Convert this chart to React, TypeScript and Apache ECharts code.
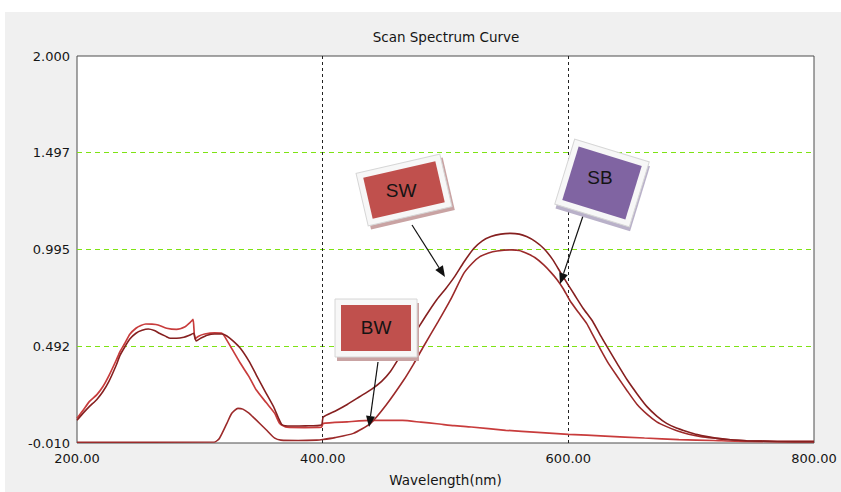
import React, { useEffect, useRef } from 'react';
import * as echarts from 'echarts';

// SW sample: UV hump, step at 400 nm, main band peaking near 553 nm
const swWavelength = [
  200, 205, 210, 216, 221, 226, 232, 235, 239, 243, 248, 253, 258, 263, 267, 272, 276, 281, 287, 291,
  295, 297, 301, 306, 312, 318, 322, 327, 333, 340, 346, 353, 360, 364, 367, 374, 386, 399, 400.5, 410,
  420, 430, 440, 448, 455, 462, 469, 477, 485, 493, 500, 507, 515, 523, 530, 537, 545, 553, 560, 566,
  573, 580, 587, 594, 600, 605, 612, 620, 626, 632, 640, 648, 656, 664, 672, 680, 688, 697, 705, 713,
  721, 730, 745, 770, 800,
];
const swAbsorbance = [
  0.108, 0.145, 0.179, 0.215, 0.256, 0.31, 0.395, 0.445, 0.49, 0.53, 0.56, 0.575, 0.582, 0.574, 0.56, 0.545, 0.534, 0.534, 0.539, 0.548,
  0.56, 0.52, 0.535, 0.55, 0.556, 0.556, 0.546, 0.52, 0.482, 0.415, 0.343, 0.26, 0.179, 0.12, 0.084, 0.078, 0.079, 0.084, 0.125, 0.155,
  0.19, 0.23, 0.27, 0.31, 0.36, 0.43, 0.50, 0.58, 0.66, 0.735, 0.79, 0.85, 0.93, 1.0, 1.04, 1.062, 1.075, 1.079, 1.075, 1.062,
  1.037, 1.0, 0.945, 0.872, 0.81, 0.76, 0.69, 0.62, 0.55, 0.485, 0.40, 0.317, 0.245, 0.179, 0.13, 0.092, 0.068, 0.049, 0.034, 0.023,
  0.014, 0.008, 0.002, -0.002, -0.003,
];

// SB sample: small band at 331 nm, main band peaking near 554 nm
const sbWavelength = [
  200, 312, 316, 322, 326, 331, 335, 340, 343, 349, 354, 361, 366, 380, 395, 400, 410, 425, 439, 452,
  466, 474, 482, 494, 504, 515, 522, 528, 535, 542, 554, 560, 566, 573, 580, 586, 591, 596, 601, 608,
  615, 620, 625, 632, 640, 648, 656, 664, 672, 680, 689, 698, 708, 721, 730, 745, 770, 800,
];
const sbAbsorbance = [
  -0.006, -0.005, 0.015, 0.092, 0.144, 0.17, 0.166, 0.145, 0.127, 0.09, 0.059, 0.015, 0.005, 0.003, 0.005, 0.008, 0.018, 0.04, 0.092, 0.19,
  0.317, 0.40, 0.49, 0.62, 0.733, 0.872, 0.925, 0.958, 0.977, 0.987, 0.993, 0.99, 0.975, 0.952, 0.915, 0.875, 0.837, 0.79, 0.733, 0.67,
  0.61, 0.55, 0.49, 0.41, 0.334, 0.26, 0.19, 0.14, 0.1, 0.075, 0.052, 0.035, 0.023, 0.014, 0.008, 0.002, -0.002, -0.003,
];

// BW sample: UV hump with a spike near 295 nm, low broad band in the visible
const bwWavelength = [
  200, 205, 210, 216, 221, 226, 232, 235, 239, 243, 248, 252, 256, 261, 266, 273, 281, 288, 292, 294.5,
  296, 299, 304, 312, 318, 320, 326, 333, 340, 346, 354, 361, 365, 371, 385, 399, 400.5, 420, 440, 465,
  480, 493, 507, 521, 549, 575, 600, 630, 662, 690, 718, 746, 800,
];
const bwAbsorbance = [
  0.118, 0.16, 0.205, 0.24, 0.282, 0.34, 0.421, 0.465, 0.508, 0.555, 0.586, 0.6, 0.608, 0.607, 0.603, 0.586, 0.58, 0.594, 0.615, 0.632,
  0.53, 0.545, 0.556, 0.562, 0.56, 0.545, 0.48, 0.404, 0.335, 0.265, 0.2, 0.144, 0.092, 0.072, 0.07, 0.072, 0.092, 0.1, 0.107, 0.107,
  0.098, 0.09, 0.08, 0.073, 0.056, 0.045, 0.035, 0.026, 0.016, 0.008, 0.003, -0.002, -0.003,
];

const yTickValues = [-0.01, 0.4925, 0.995, 1.4975, 2.0];
const yTickLabels = ['-0.010', '0.492', '0.995', '1.497', '2.000'];
const yGridValues = [0.4925, 0.995, 1.4975];
const xGridValues = [400, 600];

const pairs = (xs: number[], ys: number[]) => xs.map((x, i) => [x, ys[i]]);

function arrow(x1: number, y1: number, x2: number, y2: number) {
  const dx = x2 - x1;
  const dy = y2 - y1;
  const len = Math.hypot(dx, dy);
  const ux = dx / len;
  const uy = dy / len;
  const hl = 11;
  const hw = 4.5;
  const bx = x2 - ux * hl;
  const by = y2 - uy * hl;
  return [
    { type: 'line', z: 50, shape: { x1, y1, x2: bx, y2: by }, style: { stroke: '#111', lineWidth: 1.2 } },
    {
      type: 'polygon',
      z: 50,
      shape: { points: [[x2, y2], [bx - uy * hw, by + ux * hw], [bx + uy * hw, by - ux * hw]] },
      style: { fill: '#111' },
    },
  ];
}

function tag(
  cx: number, cy: number, w: number, h: number, rotation: number,
  fill: string, shadow: string, text: string, tx: number, ty: number,
) {
  const f = 6;
  return [
    {
      type: 'group',
      x: cx,
      y: cy,
      rotation,
      z: 60,
      children: [
        { type: 'rect', z: 60, shape: { x: -w / 2 - f + 2, y: -h / 2 - f + 4, width: w + 2 * f, height: h + 2 * f }, style: { fill: shadow } },
        { type: 'rect', z: 61, shape: { x: -w / 2 - f, y: -h / 2 - f, width: w + 2 * f, height: h + 2 * f }, style: { fill: '#f7f7f7', stroke: '#d6d6d6', lineWidth: 1 } },
        { type: 'rect', z: 62, shape: { x: -w / 2, y: -h / 2, width: w, height: h }, style: { fill } },
      ],
    },
    {
      type: 'text',
      z: 63,
      x: tx,
      y: ty,
      style: {
        text,
        fill: '#141414',
        font: '19px "Liberation Sans", Arial, sans-serif',
        textAlign: 'center',
        verticalAlign: 'middle',
      },
    },
  ];
}

export default function App() {
  const ref = useRef<HTMLDivElement>(null);

  useEffect(() => {
    if (!ref.current) return;
    const chart = echarts.init(ref.current, undefined, { renderer: 'svg' });
    const font = '"DejaVu Sans", Tahoma, sans-serif';

    chart.setOption({
      animation: false,
      backgroundColor: '#f0f0f0',
      title: {
        text: 'Scan Spectrum Curve',
        left: 446,
        top: 30,
        padding: 0,
        textAlign: 'center',
        textStyle: { fontSize: 13.5, fontWeight: 'normal', color: '#151515', fontFamily: font },
      },
      grid: {
        left: 77,
        right: 27,
        top: 56,
        bottom: 48,
        show: true,
        backgroundColor: '#ffffff',
        borderColor: '#4c4c4c',
        borderWidth: 1,
      },
      xAxis: {
        type: 'value',
        min: 200,
        max: 800,
        interval: 200,
        name: 'Wavelength(nm)',
        nameLocation: 'middle',
        nameGap: 30,
        nameTextStyle: { fontSize: 13.5, color: '#151515', fontFamily: font },
        axisLine: { show: false },
        axisTick: { show: false, customValues: xGridValues },
        axisLabel: {
          margin: 9,
          fontSize: 13,
          color: '#151515',
          fontFamily: font,
          formatter: (v: number) => v.toFixed(2),
        },
        splitLine: { show: true, lineStyle: { color: '#222', type: [3, 3], width: 1 } },
      },
      yAxis: {
        type: 'value',
        min: -0.01,
        max: 2.0,
        axisLine: { show: false },
        axisTick: { show: false, customValues: yGridValues },
        axisLabel: {
          margin: 7,
          fontSize: 13,
          color: '#151515',
          fontFamily: font,
          customValues: yTickValues,
          formatter: (v: number) => {
            let best = 0;
            yTickValues.forEach((t, i) => {
              if (Math.abs(t - v) < Math.abs(yTickValues[best] - v)) best = i;
            });
            return yTickLabels[best];
          },
        },
        splitLine: { show: true, lineStyle: { color: '#7ee314', type: [5, 4], width: 1 } },
      },
      series: [
        {
          name: 'BW',
          type: 'line',
          data: pairs(bwWavelength, bwAbsorbance),
          showSymbol: false,
          smooth: 0.2,
          lineStyle: { color: '#c83c3c', width: 1.7 },
          z: 3,
        },
        {
          name: 'SB',
          type: 'line',
          data: pairs(sbWavelength, sbAbsorbance),
          showSymbol: false,
          smooth: 0.2,
          lineStyle: { color: '#9c2a2a', width: 1.6 },
          z: 4,
        },
        {
          name: 'SW',
          type: 'line',
          data: pairs(swWavelength, swAbsorbance),
          showSymbol: false,
          smooth: 0.2,
          lineStyle: { color: '#862020', width: 1.6 },
          z: 5,
        },
      ],
      graphic: [
        { type: 'rect', z: 1, shape: { x: 0, y: 0, width: 841, height: 12 }, style: { fill: '#ffffff' } },
        { type: 'rect', z: 1, shape: { x: 0, y: 0, width: 5, height: 492 }, style: { fill: '#ffffff' } },
        ...arrow(412, 225, 445, 277),
        ...arrow(585, 210, 560, 284),
        ...arrow(378, 362, 369, 427),
        ...tag(404, 190, 74, 42, 0.227, '#c0504d', '#c9a3a3', 'SW', 401, 190),
        ...tag(602, 183, 66, 56, -0.297, '#8064a2', '#b9b1c9', 'SB', 600, 177),
        ...tag(376, 328, 70, 46, 0, '#c0504d', '#c9a3a3', 'BW', 376, 327),
      ],
    });

    return () => chart.dispose();
  }, []);

  return (
    <div
      ref={ref}
      style={{ position: 'fixed', left: 0, top: 0, width: 841, height: 492 }}
    />
  );
}
